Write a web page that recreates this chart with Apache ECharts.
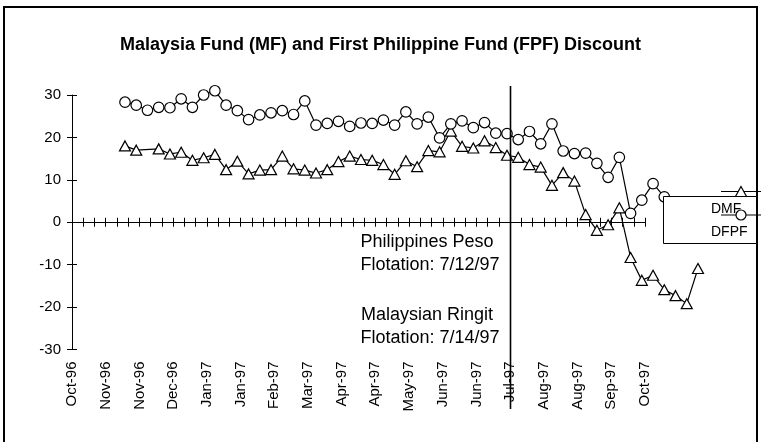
<!DOCTYPE html>
<html>
<head>
<meta charset="utf-8">
<title>MF and FPF Discount</title>
<script src="https://cdn.jsdelivr.net/npm/echarts@6/dist/echarts.min.js"></script>
<style>
  html, body { margin: 0; padding: 0; background: #fff; }
  #chart { width: 761px; height: 442px; }
</style>
</head>
<body>
<div id="chart"></div>
<script>
// weekly tick marks on the date axis (Oct 18 '96 .. Oct 10 '97), a label every 3rd week
const weekLabels = [
  'Oct-96', 'Oct-96', 'Nov-96', 'Nov-96', 'Nov-96', 'Nov-96', 'Nov-96', 'Dec-96', 'Dec-96', 'Dec-96',
  'Dec-96', 'Jan-97', 'Jan-97', 'Jan-97', 'Jan-97', 'Jan-97', 'Feb-97', 'Feb-97', 'Feb-97', 'Feb-97',
  'Mar-97', 'Mar-97', 'Mar-97', 'Mar-97', 'Apr-97', 'Apr-97', 'Apr-97', 'Apr-97', 'May-97', 'May-97',
  'May-97', 'May-97', 'May-97', 'Jun-97', 'Jun-97', 'Jun-97', 'Jun-97', 'Jul-97', 'Jul-97', 'Jul-97',
  'Jul-97', 'Aug-97', 'Aug-97', 'Aug-97', 'Aug-97', 'Aug-97', 'Sep-97', 'Sep-97', 'Sep-97', 'Sep-97',
  'Oct-97', 'Oct-97'
]
const flotationWeek = 39   // tick index of the Jul-97 flotation line

// weekly observations
const obsDates = [
  '11/20/96', '11/27/96', '12/4/96', '12/11/96', '12/18/96', '12/25/96', '1/1/97', '1/8/97', '1/15/97', '1/22/97',
  '1/29/97', '2/5/97', '2/12/97', '2/19/97', '2/26/97', '3/5/97', '3/12/97', '3/19/97', '3/26/97', '4/2/97',
  '4/9/97', '4/16/97', '4/23/97', '4/30/97', '5/7/97', '5/14/97', '5/21/97', '5/28/97', '6/4/97', '6/11/97',
  '6/18/97', '6/25/97', '7/2/97', '7/9/97', '7/16/97', '7/23/97', '7/30/97', '8/6/97', '8/13/97', '8/20/97',
  '8/27/97', '9/3/97', '9/10/97', '9/17/97', '9/24/97', '10/1/97', '10/8/97', '10/15/97', '10/22/97', '10/29/97',
  '11/5/97', '11/12/97'
]

// Malaysia Fund discount (triangles)
const dmf = [
  18.0, 17.0, null, 17.3, 16.1, 16.5, 14.6, 15.2, 16.0, 12.4,
  14.4, 11.4, 12.3, 12.4, 15.6, 12.6, 12.3, 11.6, 12.4, 14.3,
  15.6, 14.8, 14.6, 13.6, 11.3, 14.5, 13.1, 16.9, 16.6, 21.5,
  17.9, 17.5, 19.2, 17.6, 15.8, 15.3, 13.6, 13.0, 8.7, 11.7,
  9.7, 1.8, -1.9, -0.6, 3.4, -8.3, -13.7, -12.5, -15.9, -17.3,
  -19.2, -10.9
]

// First Philippine Fund discount (circles)
const dfpf = [
  28.3, 27.6, 26.4, 27.1, 27.0, 29.1, 27.1, 30.0, 31.0, 27.6,
  26.3, 24.2, 25.3, 25.8, 26.3, 25.4, 28.6, 22.9, 23.3, 23.8,
  22.6, 23.4, 23.3, 24.1, 22.9, 26.0, 23.2, 24.8, 19.9, 23.2,
  23.9, 22.3, 23.5, 21.0, 20.9, 19.5, 21.4, 18.5, 23.2, 16.8,
  16.2, 16.3, 13.9, 10.6, 15.3, 2.1, 5.2, 9.1, 6.0
]

const FONT = 'Liberation Sans, Arial, sans-serif'
const black = '#000'

let chart = echarts.init(document.getElementById('chart'))

let option = {
  animation: false,
  backgroundColor: '#fff',
  title: {
    text: 'Malaysia Fund (MF) and First Philippine Fund (FPF) Discount',
    left: 'center',
    top: 31,
    textStyle: { fontFamily: FONT, fontSize: 18, fontWeight: 'bold', color: black }
  },
  grid: [
    // visible axes
    { left: 72, right: 116, top: 95, bottom: 92.5 },
    // observations
    { left: 125, right: 63, top: 95, bottom: 92.5 }
  ],
  xAxis: [
    {
      gridIndex: 0, type: 'category', data: weekLabels, boundaryGap: false, position: 'bottom',
      axisLine: { onZero: true, lineStyle: { color: black, width: 1 } },
      axisTick: { interval: 0, length: 4.5, lineStyle: { color: black } },
      axisLabel: { show: false }
    },
    {
      gridIndex: 0, type: 'category', data: weekLabels, boundaryGap: false, position: 'top',
      axisLine: { onZero: true, lineStyle: { color: black, width: 1 } },
      axisTick: { interval: 0, length: 4.5, lineStyle: { color: black } },
      axisLabel: { show: false }
    },
    {
      gridIndex: 0, type: 'category', data: weekLabels, boundaryGap: false, position: 'bottom',
      axisLine: { show: false, onZero: false },
      axisTick: { show: false },
      axisLabel: { interval: 2, rotate: 90, margin: 12, fontSize: 15, fontFamily: FONT, color: black }
    },
    { gridIndex: 1, type: 'category', data: obsDates, boundaryGap: false, show: false }
  ],
  yAxis: [
    {
      gridIndex: 0, type: 'value', min: -30, max: 30, interval: 10, position: 'left',
      axisLine: { show: true, onZero: false, lineStyle: { color: black, width: 1 } },
      axisTick: { show: true, length: 5, lineStyle: { color: black } },
      axisLabel: { margin: 11, fontSize: 15, fontFamily: FONT, color: black },
      splitLine: { show: false }
    },
    {
      gridIndex: 0, type: 'value', min: -30, max: 30, interval: 10, position: 'left',
      axisLine: { show: false, onZero: false },
      axisTick: { show: true, inside: true, length: 5, lineStyle: { color: black } },
      axisLabel: { show: false },
      splitLine: { show: false }
    },
    { gridIndex: 1, type: 'value', min: -30, max: 30, show: false }
  ],
  series: [
    {
      name: 'DMF', type: 'line', xAxisIndex: 3, yAxisIndex: 2,
      data: dmf, connectNulls: true, clip: false,
      symbol: 'triangle', symbolSize: [11, 10], showAllSymbol: true,
      lineStyle: { color: black, width: 1.2 },
      itemStyle: { color: '#fff', borderColor: black, borderWidth: 1.2 }
    },
    {
      name: 'DFPF', type: 'line', xAxisIndex: 3, yAxisIndex: 2,
      data: dfpf, clip: false,
      symbol: 'circle', symbolSize: 10.5, showAllSymbol: true,
      lineStyle: { color: black, width: 1.2 },
      itemStyle: { color: '#fff', borderColor: black, borderWidth: 1.2 }
    }
  ]
}

chart.setOption(option)

// flotation line + notes + the (displaced) legend box
let lineX = Math.round(chart.convertToPixel({ xAxisIndex: 0 }, flotationWeek)) + 0.5
let noteStyle = { fontFamily: FONT, fontSize: 18, fill: black, textAlign: 'center', textVerticalAlign: 'middle' }

chart.setOption({
  graphic: [
    {
      type: 'rect', z: 100, silent: true,
      shape: { x: 4, y: 7, width: 753, height: 440 },
      style: { fill: null, stroke: black, lineWidth: 2 }
    },
    {
      type: 'line', z: 90, silent: true,
      shape: { x1: lineX, y1: 86, x2: lineX, y2: 409 },
      style: { stroke: black, lineWidth: 1.6 }
    },
    { type: 'text', z: 90, x: 427, y: 242, style: Object.assign({ text: 'Philippines Peso' }, noteStyle) },
    { type: 'text', z: 90, x: 430, y: 265, style: Object.assign({ text: 'Flotation: 7/12/97' }, noteStyle) },
    { type: 'text', z: 90, x: 427, y: 315, style: Object.assign({ text: 'Malaysian Ringit' }, noteStyle) },
    { type: 'text', z: 90, x: 430, y: 338, style: Object.assign({ text: 'Flotation: 7/14/97' }, noteStyle) },
    // legend
    {
      type: 'rect', z: 100, silent: true,
      shape: { x: 663.5, y: 196.5, width: 93, height: 47 },
      style: { fill: '#fff', stroke: black, lineWidth: 1 }
    },
    { type: 'text', z: 101, x: 711, y: 209, style: { text: 'DMF', fontFamily: FONT, fontSize: 14, fill: black, textVerticalAlign: 'middle' } },
    { type: 'text', z: 101, x: 711, y: 232, style: { text: 'DFPF', fontFamily: FONT, fontSize: 14, fill: black, textVerticalAlign: 'middle' } },
    {
      type: 'line', z: 101, silent: true,
      shape: { x1: 721, y1: 191.5, x2: 761, y2: 191.5 },
      style: { stroke: black, lineWidth: 1.2 }
    },
    {
      type: 'polygon', z: 102, silent: true,
      shape: { points: [[741, 186.5], [746.5, 196.5], [735.5, 196.5]] },
      style: { fill: '#fff', stroke: black, lineWidth: 1.2 }
    },
    {
      type: 'line', z: 101, silent: true,
      shape: { x1: 721, y1: 215, x2: 761, y2: 215 },
      style: { stroke: black, lineWidth: 1.2 }
    },
    {
      type: 'circle', z: 102, silent: true,
      shape: { cx: 741, cy: 215, r: 5 },
      style: { fill: '#fff', stroke: black, lineWidth: 1.2 }
    }
  ]
})
</script>
</body>
</html>
